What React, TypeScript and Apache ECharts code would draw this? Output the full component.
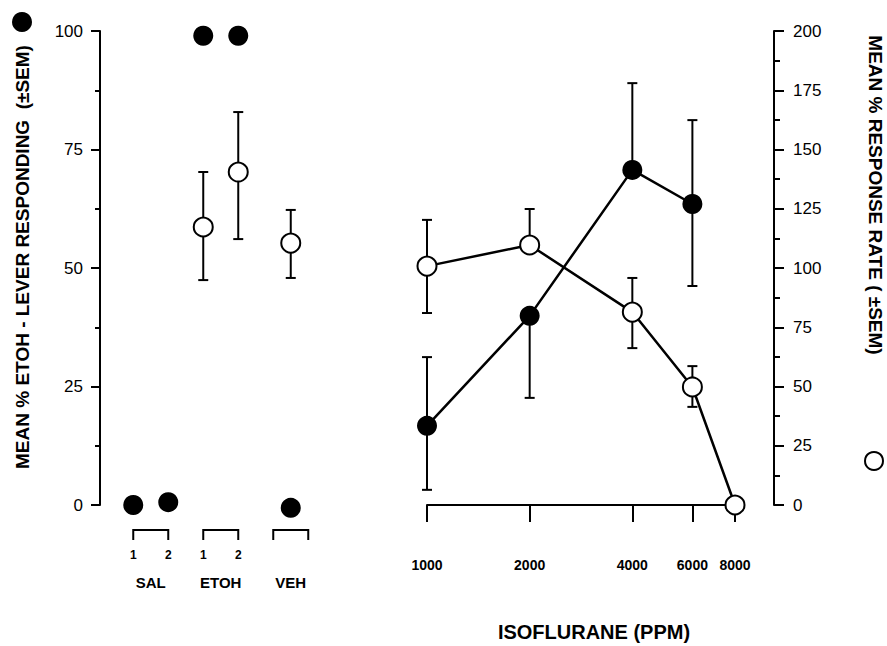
import React, { useEffect, useRef } from "react";
import * as echarts from "echarts";

// ---------- data ----------
// left panel (control injections)
const controlPositions = [1, 2, 3, 4, 5.5];
const controlSubLabels = ["1", "2", "1", "2", ""];
const groupNames = ["SAL", "ETOH", "VEH"];
const groupStart = [1, 3, 5];
const groupEnd = [2, 4, 6];

const controlEtoh = [0, 0.6, 99, 99, -0.6]; // % ETOH-lever responding (filled)
const controlRate: (number | null)[] = [null, null, 117.3, 140.5, 110.5]; // % response rate (open)
const controlRateHi: (number | null)[] = [null, null, 140.5, 165.8, 124.5];
const controlRateLo: (number | null)[] = [null, null, 94.9, 112.2, 95.8];

// right panel (isoflurane)
const doses = [1000, 2000, 4000, 6000, 8000];
const doseTicks = [1000, 2000, 4000, 6000, 8000];
const isoEtoh: (number | null)[] = [16.7, 39.9, 70.7, 63.5, null];
const isoEtohHi: (number | null)[] = [31.2, null, 89.0, 81.2, null];
const isoEtohLo: (number | null)[] = [3.2, 22.6, null, 46.2, null];
const isoRate: (number | null)[] = [100.8, 109.7, 81.4, 49.8, 0];
const isoRateHi: (number | null)[] = [120.3, 124.9, 95.8, 58.6, null];
const isoRateLo: (number | null)[] = [81.0, null, 66.2, 41.4, null];

// axis ticks
const leftTicks = [0, 25, 50, 75, 100];
const rightTicks = [0, 25, 50, 75, 100, 125, 150, 175, 200];

const FONT = '"Liberation Sans", Arial, Helvetica, sans-serif';
const BLACK = "#000";

function isNum(v: any) {
  return v !== null && v !== undefined && v !== "-" && !isNaN(v);
}

function errorBarRender(capHalf: number) {
  return (params: any, api: any) => {
    const x = api.value(0);
    const m = api.value(1);
    const lo = api.value(2);
    const hi = api.value(3);
    const base = api.coord([x, m]);
    const children: any[] = [];
    const addEnd = (v: any) => {
      if (!isNum(v)) return;
      const p = api.coord([x, v]);
      children.push({
        type: "line",
        shape: { x1: base[0], y1: base[1], x2: p[0], y2: p[1] },
        style: { stroke: BLACK, lineWidth: 2 },
      });
      children.push({
        type: "line",
        shape: { x1: p[0] - capHalf, y1: p[1], x2: p[0] + capHalf, y2: p[1] },
        style: { stroke: BLACK, lineWidth: 2 },
      });
    };
    addEnd(hi);
    addEnd(lo);
    return { type: "group", children };
  };
}

export default function App() {
  const ref = useRef<HTMLDivElement>(null);

  useEffect(() => {
    document.body.style.margin = "0";
    if (!ref.current) return;
    const chart = echarts.init(ref.current, null, { renderer: "svg" });

    const openControl = controlPositions
      .map((p, i) => [p, controlRate[i], controlRateLo[i], controlRateHi[i]])
      .filter((d) => d[1] !== null);

    const filledIso = doses
      .map((d, i) => [d, isoEtoh[i], isoEtohLo[i], isoEtohHi[i]])
      .filter((d) => d[1] !== null);
    const openIso = doses
      .map((d, i) => [d, isoRate[i], isoRateLo[i], isoRateHi[i]])
      .filter((d) => d[1] !== null);

    const axisNumLabel = { fontSize: 17, color: BLACK, fontFamily: FONT };

    const option: any = {
      animation: false,
      backgroundColor: "#fff",
      grid: [
        { left: 100, top: 31, width: 217, height: 474 },
        { left: 427, top: 31, width: 308, height: 474 },
      ],
      xAxis: [
        { type: "value", gridIndex: 0, min: 0.05, max: 6.25, show: false },
        {
          type: "log",
          gridIndex: 1,
          logBase: 2,
          min: doseTicks[0],
          max: doseTicks[doseTicks.length - 1],
          offset: 23,
          axisLine: { show: true, lineStyle: { color: BLACK, width: 2 } },
          axisTick: {
            show: true,
            length: 17,
            customValues: doseTicks,
            lineStyle: { color: BLACK, width: 2 },
          },
          minorTick: { show: false },
          splitLine: { show: false },
          axisLabel: {
            customValues: doseTicks,
            margin: 30,
            fontSize: 14,
            fontWeight: "bold",
            color: BLACK,
            fontFamily: FONT,
            formatter: (v: number) => String(Math.round(v)),
          },
        },
      ],
      yAxis: [
        {
          type: "value",
          gridIndex: 0,
          position: "left",
          min: leftTicks[0],
          max: leftTicks[leftTicks.length - 1],
          interval: leftTicks[1] - leftTicks[0],
          axisLine: { show: true, lineStyle: { color: BLACK, width: 2 } },
          axisTick: { show: true, length: 9, lineStyle: { color: BLACK, width: 2 } },
          minorTick: { show: true, splitNumber: 2, length: 5, lineStyle: { color: BLACK, width: 2 } },
          splitLine: { show: false },
          axisLabel: { ...axisNumLabel, margin: 17 },
        },
        { type: "value", gridIndex: 0, min: 0, max: 200, show: false },
        {
          type: "value",
          gridIndex: 1,
          position: "right",
          offset: 39,
          min: rightTicks[0],
          max: rightTicks[rightTicks.length - 1],
          interval: rightTicks[1] - rightTicks[0],
          axisLine: { show: true, lineStyle: { color: BLACK, width: 2 } },
          axisTick: { show: true, length: 10, lineStyle: { color: BLACK, width: 2 } },
          minorTick: { show: true, splitNumber: 2, length: 6, lineStyle: { color: BLACK, width: 2 } },
          splitLine: { show: false },
          axisLabel: { ...axisNumLabel, margin: 19 },
        },
        { type: "value", gridIndex: 1, min: 0, max: 100, show: false },
      ],
      series: [
        // brackets + group names (left panel)
        {
          type: "custom",
          xAxisIndex: 0,
          yAxisIndex: 0,
          silent: true,
          clip: false,
          z: 1,
          encode: { x: [0, 1], y: 2 },
          data: groupStart.map((s, i) => [s, groupEnd[i], 0]),
          renderItem: (params: any, api: any) => {
            const a = api.coord([api.value(0), 0]);
            const b = api.coord([api.value(1), 0]);
            const y = a[1] + 25;
            return {
              type: "group",
              children: [
                {
                  type: "polyline",
                  shape: { points: [[a[0], y + 10], [a[0], y], [b[0], y], [b[0], y + 10]] },
                  style: { stroke: BLACK, lineWidth: 2, fill: null },
                },
                {
                  type: "text",
                  x: (a[0] + b[0]) / 2,
                  y: a[1] + 77,
                  style: {
                    text: groupNames[params.dataIndex],
                    fontSize: 15,
                    fontWeight: "bold",
                    fill: BLACK,
                    align: "center",
                    verticalAlign: "middle",
                    fontFamily: FONT,
                  },
                },
              ],
            };
          },
        },
        // sub labels 1 / 2
        {
          type: "custom",
          xAxisIndex: 0,
          yAxisIndex: 0,
          silent: true,
          clip: false,
          z: 1,
          encode: { x: 0, y: 1 },
          data: controlPositions.map((p) => [p, 0]),
          renderItem: (params: any, api: any) => {
            const a = api.coord([api.value(0), 0]);
            return {
              type: "text",
              x: a[0],
              y: a[1] + 50,
              style: {
                text: controlSubLabels[params.dataIndex],
                fontSize: 12,
                fontWeight: "bold",
                fill: BLACK,
                align: "center",
                verticalAlign: "middle",
                fontFamily: FONT,
              },
            };
          },
        },
        // open control error bars
        {
          type: "custom",
          xAxisIndex: 0,
          yAxisIndex: 1,
          silent: true,
          clip: false,
          z: 1,
          encode: { x: 0, y: [1, 2, 3] },
          data: openControl,
          renderItem: errorBarRender(5),
        },
        {
          name: "ETOH lever (controls)",
          type: "scatter",
          xAxisIndex: 0,
          yAxisIndex: 0,
          clip: false,
          silent: true,
          z: 3,
          symbolSize: 20,
          itemStyle: { color: BLACK, opacity: 1 },
          data: controlPositions.map((p, i) => [p, controlEtoh[i]]),
        },
        {
          name: "Response rate (controls)",
          type: "scatter",
          xAxisIndex: 0,
          yAxisIndex: 1,
          clip: false,
          silent: true,
          z: 4,
          symbolSize: 19,
          itemStyle: { color: "#fff", borderColor: BLACK, borderWidth: 2, opacity: 1 },
          data: openControl.map((d) => [d[0], d[1]]),
        },
        // isoflurane error bars
        {
          type: "custom",
          xAxisIndex: 1,
          yAxisIndex: 3,
          silent: true,
          clip: false,
          z: 1,
          encode: { x: 0, y: [1, 2, 3] },
          data: filledIso,
          renderItem: errorBarRender(5),
        },
        {
          type: "custom",
          xAxisIndex: 1,
          yAxisIndex: 2,
          silent: true,
          clip: false,
          z: 1,
          encode: { x: 0, y: [1, 2, 3] },
          data: openIso,
          renderItem: errorBarRender(5),
        },
        {
          name: "ETOH lever (isoflurane)",
          type: "line",
          xAxisIndex: 1,
          yAxisIndex: 3,
          clip: false,
          silent: true,
          z: 3,
          symbol: "circle",
          symbolSize: 20,
          showSymbol: true,
          lineStyle: { color: BLACK, width: 2.5 },
          itemStyle: { color: BLACK, opacity: 1 },
          data: filledIso.map((d) => [d[0], d[1]]),
        },
        {
          name: "Response rate (isoflurane)",
          type: "line",
          xAxisIndex: 1,
          yAxisIndex: 2,
          clip: false,
          silent: true,
          z: 4,
          symbol: "circle",
          symbolSize: 19,
          showSymbol: true,
          lineStyle: { color: BLACK, width: 2.5 },
          itemStyle: { color: "#fff", borderColor: BLACK, borderWidth: 2, opacity: 1 },
          data: openIso.map((d) => [d[0], d[1]]),
        },
      ],
      graphic: [
        { type: "circle", shape: { cx: 22, cy: 22, r: 10 }, style: { fill: BLACK }, silent: true },
        {
          type: "circle",
          shape: { cx: 874, cy: 461, r: 9 },
          style: { fill: "#fff", stroke: BLACK, lineWidth: 2 },
          silent: true,
        },
        {
          type: "text",
          x: 22,
          y: 257,
          rotation: Math.PI / 2,
          silent: true,
          style: {
            text: "MEAN % ETOH - LEVER RESPONDING  (±SEM)",
            fontSize: 19,
            fontWeight: "bold",
            fill: BLACK,
            align: "center",
            verticalAlign: "middle",
            fontFamily: FONT,
          },
        },
        {
          type: "text",
          x: 875,
          y: 195,
          rotation: -Math.PI / 2,
          silent: true,
          style: {
            text: "MEAN % RESPONSE RATE ( ±SEM)",
            fontSize: 19,
            fontWeight: "bold",
            fill: BLACK,
            align: "center",
            verticalAlign: "middle",
            fontFamily: FONT,
          },
        },
        {
          type: "text",
          x: 594,
          y: 632,
          silent: true,
          style: {
            text: "ISOFLURANE (PPM)",
            fontSize: 20,
            fontWeight: "bold",
            fill: BLACK,
            align: "center",
            verticalAlign: "middle",
            fontFamily: FONT,
          },
        },
      ],
    };

    chart.setOption(option);
    return () => chart.dispose();
  }, []);

  return <div ref={ref} style={{ width: 887, height: 646 }} />;
}
